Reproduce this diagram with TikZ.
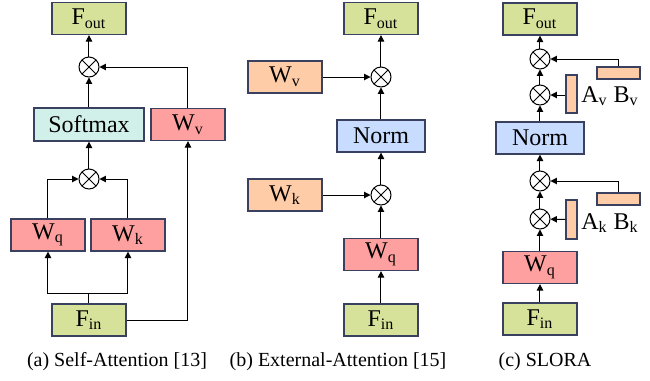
\documentclass[tikz,border=0pt]{standalone}
\usepackage{fontspec}
\setmainfont{Liberation Serif}
\usepackage{xcolor}
\usetikzlibrary{arrows.meta,positioning}

\definecolor{fgreen}{HTML}{D6E29A}
\definecolor{wpink}{HTML}{FFA0A0}
\definecolor{worange}{HTML}{FFCCA8}
\definecolor{nblue}{HTML}{C8DCFF}
\definecolor{scyan}{HTML}{D2F0EA}
\definecolor{edge}{HTML}{3A4060}

\tikzset{
    blk/.style={draw=edge, line width=0.6pt, inner sep=0pt, minimum width=37pt, minimum height=16pt, font=\fontsize{12}{12}\selectfont},
    fbox/.style={blk, fill=fgreen},
    wbox/.style={blk, fill=wpink},
    obox/.style={blk, fill=worange},
    nbox/.style={blk, fill=nblue, minimum width=44pt},
    sbox/.style={blk, fill=scyan, minimum width=55pt, minimum height=16.5pt},
    rank/.style={draw=edge, line width=0.6pt, fill=worange, inner sep=0pt},
    mul/.style={draw, circle, line width=0.5pt, inner sep=0pt, minimum size=10pt,
        path picture={
            \draw ([shift={(-3.5pt,-3.5pt)}]path picture bounding box.center) -- ([shift={(3.5pt,3.5pt)}]path picture bounding box.center);
            \draw ([shift={(-3.5pt,3.5pt)}]path picture bounding box.center) -- ([shift={(3.5pt,-3.5pt)}]path picture bounding box.center);
        }},
    arr/.style={-{Triangle[length=3.2pt,width=3.2pt]}, line width=0.5pt},
    captxt/.style={font=\fontsize{10}{12}\selectfont}
}

\begin{document}
\begin{tikzpicture}[x=0.5pt, y=-0.5pt]
    \useasboundingbox (0,0) rectangle (650,381);

    % (a) Self-Attention
    \node[fbox] (aout) at (89,18.5) {F\textsubscript{out}};
    \node[mul] (amul1) at (89,67) {};
    \node[sbox] (soft) at (89,124.5) {Softmax};
    \node[wbox] (awv) at (188,124.5) {W\textsubscript{v}};
    \node[mul] (amul2) at (89,179) {};
    \node[wbox] (awq) at (48,235) {W\textsubscript{q}};
    \node[wbox] (awk) at (128,235) {W\textsubscript{k}};
    \node[fbox] (ain) at (89,320) {F\textsubscript{in}};

    \draw[line width=0.5pt] (ain.north) -- (89,293);
    \draw[arr] (89,293) -| (awq.south);
    \draw[arr] (89,293) -| (awk.south);
    \draw[arr] (awq.north) |- (amul2.west);
    \draw[arr] (awk.north) |- (amul2.east);
    \draw[arr] (amul2) -- (soft);
    \draw[arr] (soft) -- (amul1);
    \draw[arr] (ain.east) -| (awv.south);
    \draw[arr] (awv.north) |- (amul1.east);
    \draw[arr] (amul1) -- (aout);

    % (b) External-Attention
    \node[fbox] (bout) at (381,18.5) {F\textsubscript{out}};
    \node[mul] (bmul1) at (381,77) {};
    \node[obox] (bwv) at (285,77) {W\textsubscript{v}};
    \node[nbox] (bnorm) at (381,136) {Norm};
    \node[mul] (bmul2) at (381,195) {};
    \node[obox] (bwk) at (285,195) {W\textsubscript{k}};
    \node[wbox] (bwq) at (381,254.5) {W\textsubscript{q}};
    \node[fbox] (bin) at (381,320) {F\textsubscript{in}};

    \draw[arr] (bin) -- (bwq);
    \draw[arr] (bwq) -- (bmul2);
    \draw[arr] (bwk) -- (bmul2);
    \draw[arr] (bmul2) -- (bnorm);
    \draw[arr] (bnorm) -- (bmul1);
    \draw[arr] (bwv) -- (bmul1);
    \draw[arr] (bmul1) -- (bout);

    % (c) SLORA
    \node[fbox] (cout) at (540,19) {F\textsubscript{out}};
    \node[mul] (cmul1) at (540,59) {};
    \node[mul] (cmul2) at (540,95) {};
    \node[nbox] (cnorm) at (540,138) {Norm};
    \node[mul] (cmul3) at (540,181) {};
    \node[mul] (cmul4) at (540,219) {};
    \node[wbox] (cwq) at (540,267.5) {W\textsubscript{q}};
    \node[fbox] (cin) at (540,319) {F\textsubscript{in}};

    \node[rank, minimum width=21.5pt, minimum height=6pt] (bv) at (618.5,73) {};
    \node[rank, minimum width=5.5pt, minimum height=19pt] (av) at (571.5,94) {};
    \node[rank, minimum width=21.5pt, minimum height=6pt] (bk) at (618.5,199) {};
    \node[rank, minimum width=5.5pt, minimum height=19.5pt] (ak) at (571.5,219.5) {};
    \node[anchor=west, inner sep=0pt, font=\fontsize{12}{12}\selectfont] (lv) at (581,96) {A\textsubscript{v} B\textsubscript{v}};
    \node[anchor=west, inner sep=0pt, font=\fontsize{12}{12}\selectfont] (lk) at (581,223) {A\textsubscript{k} B\textsubscript{k}};

    \draw[arr] (cin) -- (cwq);
    \draw[arr] (cwq) -- (cmul4);
    \draw[arr] (ak) -- (cmul4);
    \draw[arr] (cmul4) -- (cmul3);
    \draw[arr] (bk.north) |- (cmul3.east);
    \draw[arr] (cmul3) -- (cnorm);
    \draw[arr] (cnorm) -- (cmul2);
    \draw[arr] (av.west |- cmul2) -- (cmul2);
    \draw[arr] (cmul2) -- (cmul1);
    \draw[arr] (bv.north) |- (cmul1.east);
    \draw[arr] (cmul1) -- (cout);

    % captions
    \node[captxt] (capa) at (117,362) {(a) Self-Attention [13]};
    \node[captxt] (capb) at (338,362) {(b) External-Attention [15]};
    \node[captxt] (capc) at (545,362) {(c) SLORA};
\end{tikzpicture}
\end{document}
